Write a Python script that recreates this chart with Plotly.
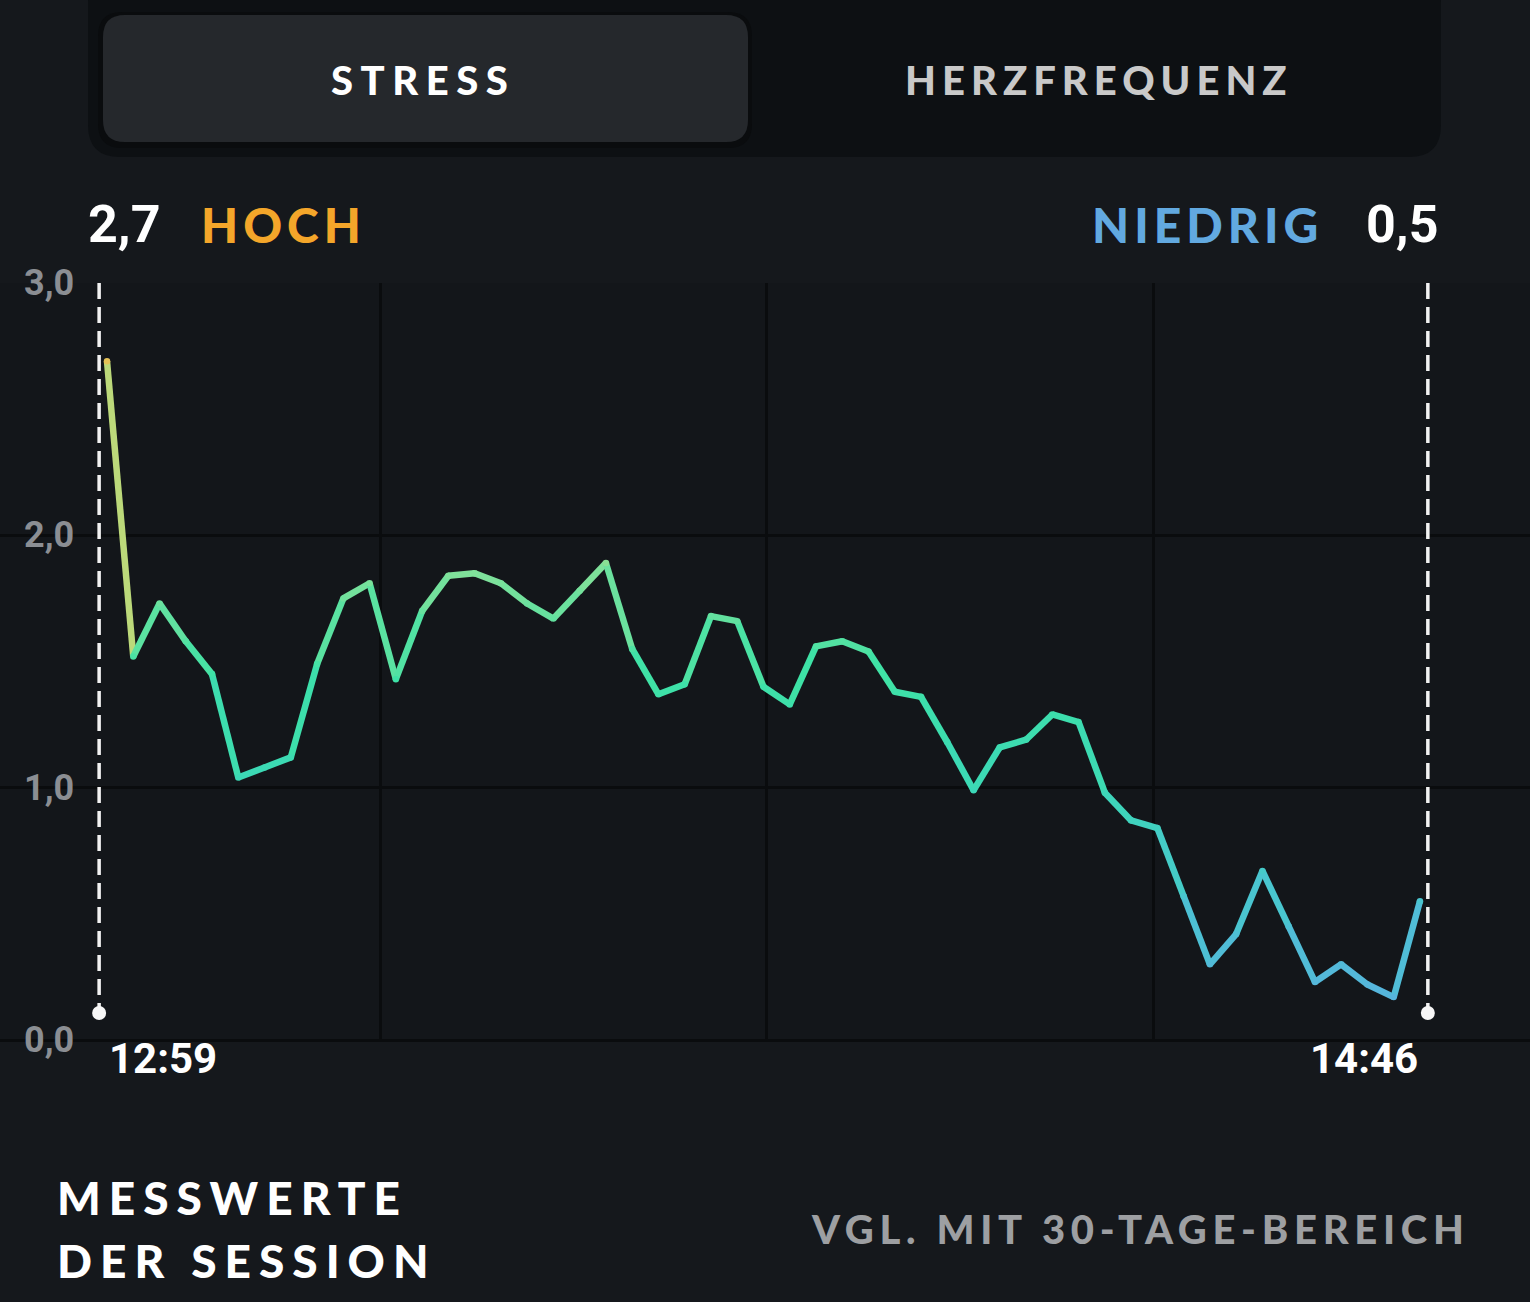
import plotly.graph_objects as go

W, H = 1530, 1302

# ---------------- data ----------------
stress = [2.69, 1.52, 1.73, 1.58, 1.45, 1.04, 1.08, 1.12, 1.49, 1.75,
          1.81, 1.43, 1.70, 1.84, 1.85, 1.81, 1.73, 1.67, 1.78, 1.89,
          1.55, 1.37, 1.41, 1.68, 1.66, 1.40, 1.33, 1.56, 1.58, 1.54,
          1.38, 1.36, 1.18, 0.99, 1.16, 1.19, 1.29, 1.26, 0.98, 0.87,
          0.84, 0.57, 0.30, 0.42, 0.67, 0.45, 0.23, 0.30, 0.22, 0.17,
          0.55]
sample_idx = list(range(len(stress)))

y_tick_vals = [0, 1, 2, 3]
y_tick_text = ["0,0", "1,0", "2,0", "3,0"]
grid_x = [10.4, 25.13, 39.85]

start_time = "12:59"
end_time = "14:46"
high_value = "2,7"
high_label = "HOCH"
low_value = "0,5"
low_label = "NIEDRIG"
tabs = ["STRESS", "HERZFREQUENZ"]
footer_left = ["MESSWERTE", "DER SESSION"]
footer_right = "VGL. MIT 30-TAGE-BEREICH"

# ---------------- styling helpers ----------------
color_stops = [(0.1, "#5ab2df"), (0.5, "#4bc3d2"), (1.0, "#3cd8b7"),
               (1.45, "#3ee2a6"), (1.85, "#80e19a"), (2.1, "#bcd97a"),
               (2.7, "#e6c256")]


def hex2rgb(h):
    h = h.lstrip("#")
    return [int(h[i:i + 2], 16) for i in (0, 2, 4)]


def value_color(v):
    if v <= color_stops[0][0]:
        return color_stops[0][1]
    if v >= color_stops[-1][0]:
        return color_stops[-1][1]
    for (v0, c0), (v1, c1) in zip(color_stops[:-1], color_stops[1:]):
        if v0 <= v <= v1:
            t = (v - v0) / (v1 - v0)
            a, b = hex2rgb(c0), hex2rgb(c1)
            rgb = [round(a[k] + (b[k] - a[k]) * t) for k in range(3)]
            return "rgb(%d,%d,%d)" % tuple(rgb)
    return color_stops[-1][1]


def X(px):
    return px / W


def Y(py):
    return 1 - py / H


def rrect(x0, y0, x1, y1, r):
    return (f"M {X(x0 + r)},{Y(y0)} L {X(x1 - r)},{Y(y0)} "
            f"Q {X(x1)},{Y(y0)} {X(x1)},{Y(y0 + r)} L {X(x1)},{Y(y1 - r)} "
            f"Q {X(x1)},{Y(y1)} {X(x1 - r)},{Y(y1)} L {X(x0 + r)},{Y(y1)} "
            f"Q {X(x0)},{Y(y1)} {X(x0)},{Y(y1 - r)} L {X(x0)},{Y(y0 + r)} "
            f"Q {X(x0)},{Y(y0)} {X(x0 + r)},{Y(y0)} Z")


def spaced(text, sp):
    return f'<span style="letter-spacing:{sp}px">{text}</span>'


HEAD_FONT = "Lato"
HEAD_W = 900
NUM_FONT = "Roboto"

fig = go.Figure()

LW = 6.5
# gradient line: one trace per segment, coloured by value
for i in range(len(stress) - 1):
    mid = (stress[i] + stress[i + 1]) / 2
    fig.add_trace(go.Scatter(
        x=[sample_idx[i], sample_idx[i + 1]],
        y=[stress[i], stress[i + 1]],
        mode="lines", line=dict(color=value_color(mid), width=LW),
        hoverinfo="skip", showlegend=False))
# round joints
fig.add_trace(go.Scatter(
    x=sample_idx, y=stress, mode="markers",
    marker=dict(size=LW, color=[value_color(v) for v in stress]),
    hoverinfo="skip", showlegend=False))

# session start / end markers
x_start = sample_idx[0] - 0.3
x_end = sample_idx[-1] + 0.3
dot_y = 0.107
for xm in (x_start, x_end):
    fig.add_trace(go.Scatter(
        x=[xm, xm], y=[3, dot_y], mode="lines",
        line=dict(color="#f2f2f2", width=3.5, dash="16px,8px"),
        hoverinfo="skip", showlegend=False))
    fig.add_trace(go.Scatter(
        x=[xm], y=[dot_y], mode="markers",
        marker=dict(size=14, color="#f7f7f7"),
        hoverinfo="skip", showlegend=False))

GRID = "#0a0c0e"
fig.update_xaxes(
    range=[-4.075, 54.19], domain=[0, 1],
    tickvals=grid_x, showticklabels=False, ticks="",
    showgrid=True, gridcolor=GRID, gridwidth=3,
    zeroline=False, showline=False, fixedrange=True)
fig.update_yaxes(
    range=[0, 3], domain=[Y(1040), Y(283)],
    tickvals=y_tick_vals, showticklabels=False, ticks="",
    showgrid=True, gridcolor=GRID, gridwidth=3,
    zeroline=True, zerolinecolor=GRID, zerolinewidth=3,
    showline=False, fixedrange=True)

shapes = [
    dict(type="path", xref="paper", yref="paper",
         path=rrect(88, -30, 1441, 157, 32),
         fillcolor="#0d1013", line=dict(width=0), layer="below"),
    dict(type="path", xref="paper", yref="paper",
         path=rrect(98, 12, 752, 148, 24),
         fillcolor="#0a0c0e", line=dict(width=0), layer="below"),
    dict(type="path", xref="paper", yref="paper",
         path=rrect(103, 15, 748, 142, 22),
         fillcolor="#25282c", line=dict(width=0), layer="below"),
]

ann = []


def add_text(text, x, y, size, color, font, xanchor="center", weight=HEAD_W):
    ann.append(dict(text=text, x=X(x), y=Y(y), xref="paper", yref="paper",
                    xanchor=xanchor, yanchor="middle", showarrow=False,
                    font=dict(family=font, size=size, color=color,
                              weight=weight)))


add_text(spaced(tabs[0], 7.5), 423, 80, 40, "#ffffff", HEAD_FONT)
add_text(spaced(tabs[1], 6), 1099, 80, 40, "#c9c9c9", HEAD_FONT)

add_text(high_value, 86, 224, 52, "#ffffff", NUM_FONT, "left", 700)
add_text(spaced(high_label, 5), 199, 225, 48, "#f4a62a", HEAD_FONT, "left")
add_text(spaced(low_label, 5), 1325, 225, 48, "#62a9e0", HEAD_FONT, "right")
add_text(low_value, 1440, 224, 52, "#ffffff", NUM_FONT, "right", 700)

add_text(spaced(footer_left[0], 8), 55, 1197, 46, "#ffffff", HEAD_FONT, "left")
add_text(spaced(footer_left[1], 8), 55, 1260, 46, "#ffffff", HEAD_FONT, "left")
add_text(spaced(footer_right, 5.7), 1472, 1229, 40, "#9d9fa2", HEAD_FONT, "right")

# y tick labels
for v, t in zip(y_tick_vals, y_tick_text):
    ann.append(dict(text=t, x=X(76), y=v, xref="paper", yref="y",
                    xanchor="right", yanchor="middle", showarrow=False,
                    font=dict(family=NUM_FONT, size=36, color="#8b8e93",
                              weight=700)))

# time labels next to the start / end markers
ann.append(dict(text=start_time, x=x_start, y=Y(1058), xref="x", yref="paper",
                xanchor="left", yanchor="middle", xshift=8, showarrow=False,
                font=dict(family=NUM_FONT, size=42, color="#ffffff", weight=700)))
ann.append(dict(text=end_time, x=x_end, y=Y(1058), xref="x", yref="paper",
                xanchor="right", yanchor="middle", xshift=-8, showarrow=False,
                font=dict(family=NUM_FONT, size=42, color="#ffffff", weight=700)))

fig.update_layout(
    width=W, height=H, margin=dict(l=0, r=0, t=0, b=0),
    paper_bgcolor="#15181c", plot_bgcolor="#13161a",
    shapes=shapes, annotations=ann, showlegend=False,
    hovermode=False)

fig.write_html("out.html", config={"displayModeBar": False})
